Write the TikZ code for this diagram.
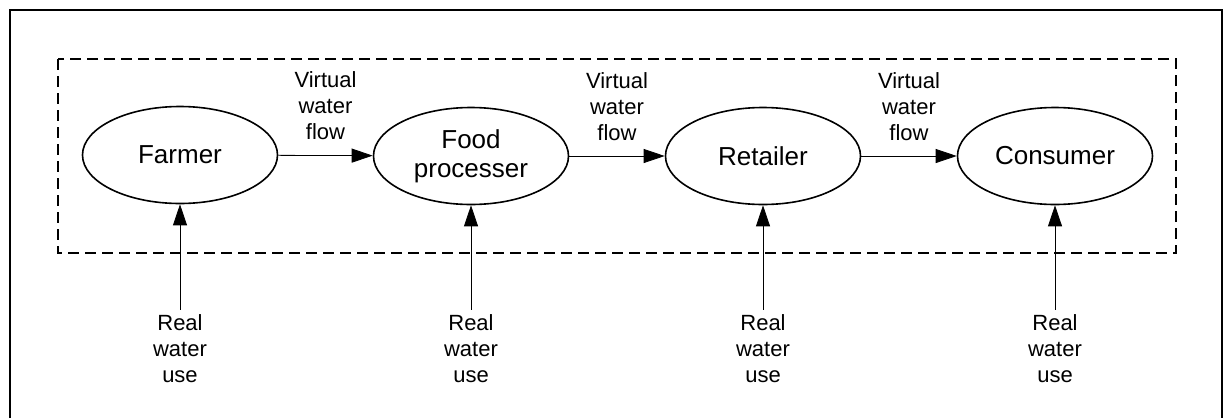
\documentclass[tikz,border=0pt]{standalone}
\usepackage{fontspec}
\setmainfont{Liberation Sans}
\usetikzlibrary{shapes.geometric,arrows.meta}

\begin{document}
\begin{tikzpicture}[x=1pt, y=-1pt,
  actor/.style={ellipse, draw, line width=1.6pt, minimum width=195pt, minimum height=97pt,
    inner sep=0pt, align=center, font=\fontsize{26}{29}\selectfont},
  flow/.style={-{Triangle[length=21pt,width=14pt]}, line width=0.8pt},
  lbl/.style={align=center, inner sep=0pt, font=\fontsize{22}{26}\selectfont}]
\useasboundingbox (0,0) rectangle (1224,418);

\draw[line width=1.5pt] (10,418) -- (10,10) -- (1222,10) -- (1222,418);
\draw[line width=1.6pt, dash pattern=on 11pt off 6pt] (58,59) rectangle (1176,253);

  \begin{scope}[every node/.style={actor}]
\node(farmer) at (180,155) {Farmer};
\node(proc) at (471,156) {Food\\processer};
\node(retail) at (763,156) {Retailer};
\node(cons) at (1055,156) {Consumer};
\end{scope}

\begin{scope}[every node/.style={lbl}]
\node(r1) at (180,349) {Real\\water\\use};
\node(r2) at (471,349) {Real\\water\\use};
\node(r3) at (763,349) {Real\\water\\use};
\node(r4) at (1055,349) {Real\\water\\use};
\end{scope}

\draw[flow] (farmer) -- node[lbl, above=15pt]{Virtual\\water\\flow}(proc);
\draw[flow] (proc) -- node[lbl, above=15pt]{Virtual\\water\\flow}(retail);
\draw[flow] (retail) -- node[lbl, above=15pt]{Virtual\\water\\flow}(cons);

\draw[flow] ([yshift=5pt]r1.north) -- (farmer);
\draw[flow] ([yshift=5pt]r2.north) -- (proc);
\draw[flow] ([yshift=5pt]r3.north) -- (retail);
\draw[flow] ([yshift=5pt]r4.north) -- (cons);
\end{tikzpicture}
\end{document}
